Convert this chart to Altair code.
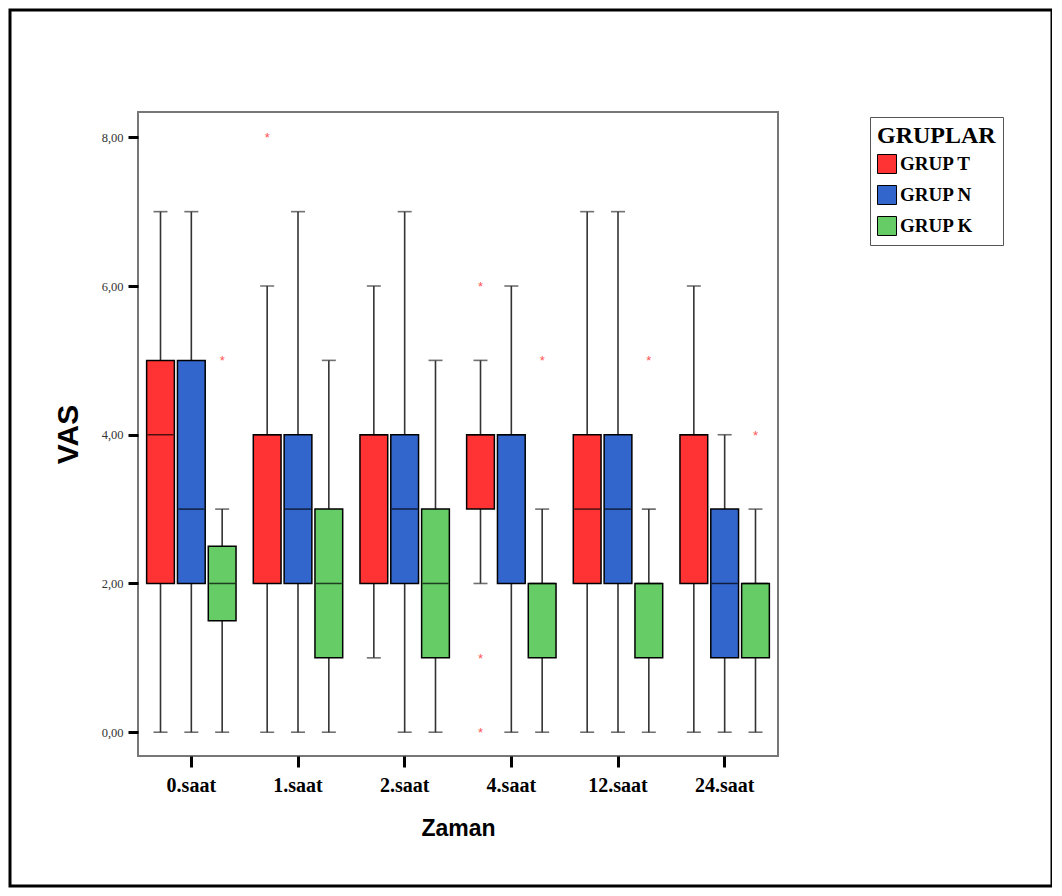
import altair as alt
import pandas as pd

times = ["0.saat", "1.saat", "2.saat", "4.saat", "12.saat", "24.saat"]
groups = ["GRUP T", "GRUP N", "GRUP K"]
colors = ["#FF3333", "#3366CC", "#66CC66"]

# per group, per time: whisker low, Q1, median, Q3, whisker high
t_min = [0, 0, 1, 2, 0, 0]
t_q1 = [2, 2, 2, 3, 2, 2]
t_med = [4, 4, 4, 4, 3, 4]
t_q3 = [5, 4, 4, 4, 4, 4]
t_max = [7, 6, 6, 5, 7, 6]

n_min = [0, 0, 0, 0, 0, 0]
n_q1 = [2, 2, 2, 2, 2, 1]
n_med = [3, 3, 3, 4, 3, 2]
n_q3 = [5, 4, 4, 4, 4, 3]
n_max = [7, 7, 7, 6, 7, 4]

k_min = [0, 0, 0, 0, 0, 0]
k_q1 = [1.5, 1, 1, 1, 1, 1]
k_med = [2, 2, 2, 2, 2, 2]
k_q3 = [2.5, 3, 3, 2, 2, 2]
k_max = [3, 5, 5, 3, 3, 3]

# extreme values (time, group, value)
out_time = ["0.saat", "1.saat", "4.saat", "4.saat", "4.saat", "4.saat", "12.saat", "24.saat"]
out_group = ["GRUP K", "GRUP T", "GRUP T", "GRUP T", "GRUP T", "GRUP K", "GRUP K", "GRUP K"]
out_value = [5, 8, 6, 1, 0, 5, 5, 4]

rows = []
for g, mn, q1, md, q3, mx in [
    ("GRUP T", t_min, t_q1, t_med, t_q3, t_max),
    ("GRUP N", n_min, n_q1, n_med, n_q3, n_max),
    ("GRUP K", k_min, k_q1, k_med, k_q3, k_max),
]:
    for i, t in enumerate(times):
        rows.append(dict(time=t, group=g, lo=mn[i], q1=q1[i], med=md[i], q3=q3[i], hi=mx[i]))
box = pd.DataFrame(rows)
outs = pd.DataFrame(dict(time=out_time, group=out_group, value=out_value))

serif = "Liberation Serif"
sans = "Liberation Sans"

x_enc = alt.X(
    "time:N",
    sort=times,
    scale=alt.Scale(paddingInner=0.0, paddingOuter=0.0),
    axis=alt.Axis(
        title="Zaman",
        titleFont=sans,
        titleFontSize=23,
        titleFontWeight="bold",
        titleColor="black",
        titlePadding=22,
        labelFont=serif,
        labelFontSize=20,
        labelFontWeight="bold",
        labelColor="black",
        labelAngle=0,
        labelPadding=8,
        tickColor="black",
        tickWidth=3,
        tickSize=11,
        domain=False,
    ),
)
xo = alt.XOffset("group:N", sort=groups, scale=alt.Scale(domain=groups, paddingInner=0.1, paddingOuter=0.28))
y_scale = alt.Scale(domain=[-0.32, 8.34], nice=False, zero=False)
y_axis = alt.Axis(
    title="VAS",
    titleFont=sans,
    titleFontSize=30,
    titleFontWeight="bold",
    titleColor="black",
    titlePadding=18,
    values=[0, 2, 4, 6, 8],
    labelExpr="replace(format(datum.value, '.2f'), '.', ',')",
    labelFont=serif,
    labelFontSize=12.5,
    labelColor="#333333",
    labelPadding=5,
    tickColor="black",
    tickWidth=3,
    tickSize=10,
    domain=False,
    grid=False,
)
color_enc = alt.Color(
    "group:N",
    sort=groups,
    scale=alt.Scale(domain=groups, range=colors),
    legend=alt.Legend(
        title="GRUPLAR",
        titleFont=serif,
        titleFontSize=24,
        titleFontWeight="bold",
        titleColor="black",
        titlePadding=6,
        labelFont=serif,
        labelFontSize=19,
        labelFontWeight="bold",
        labelColor="black",
        symbolType="square",
        symbolSize=360,
        symbolStrokeColor="black",
        symbolStrokeWidth=1,
        symbolOpacity=1,
        orient="none",
        legendX=732,
        legendY=5,
        strokeColor="#555555",
        padding=7,
        rowPadding=7,
        labelOffset=3,
    ),
)

base = alt.Chart(box)

whisker = base.mark_rule(color="#333333", strokeWidth=1.6).encode(
    x=x_enc, xOffset=xo, y=alt.Y("lo:Q", scale=y_scale, axis=y_axis), y2="hi:Q"
)
caps_lo = base.mark_tick(color="#333333", size=14, thickness=1.6).encode(
    x=x_enc, xOffset=xo, y=alt.Y("lo:Q", scale=y_scale)
)
caps_hi = base.mark_tick(color="#333333", size=14, thickness=1.6).encode(
    x=x_enc, xOffset=xo, y=alt.Y("hi:Q", scale=y_scale)
)
bars = base.mark_bar(stroke="black", strokeWidth=1.5).encode(
    x=x_enc,
    xOffset=xo,
    y=alt.Y("q1:Q", scale=y_scale),
    y2="q3:Q",
    color=color_enc,
)
medians = base.mark_tick(color="black", size=26, thickness=1.5).encode(
    x=x_enc, xOffset=xo, y=alt.Y("med:Q", scale=y_scale)
)
outliers = alt.Chart(outs).mark_text(
    text="*", color="#FF5555", fontSize=13, baseline="middle", dy=1
).encode(x=alt.X("time:N", sort=times), xOffset=alt.XOffset("group:N", sort=groups), y=alt.Y("value:Q", scale=y_scale))

frame = alt.Chart(pd.DataFrame({"a": [0]})).mark_rect(
    fill=None, stroke="black", strokeWidth=3, clip=False
).encode(
    x=alt.value(-128), x2=alt.value(914), y=alt.value(-102), y2=alt.value(774)
)

chart = (
    alt.layer(frame, whisker, caps_lo, caps_hi, bars, medians, outliers)
    .properties(
        width=640,
        height=644,
        autosize=alt.AutoSizeParams(type="none"),
        padding={"left": 130, "top": 104, "right": 274, "bottom": 132},
        background="white",
    )
    .configure_view(stroke="#777777", strokeWidth=2)
)

chart.save("out.html", embed_options={"renderer": "svg", "actions": False})
